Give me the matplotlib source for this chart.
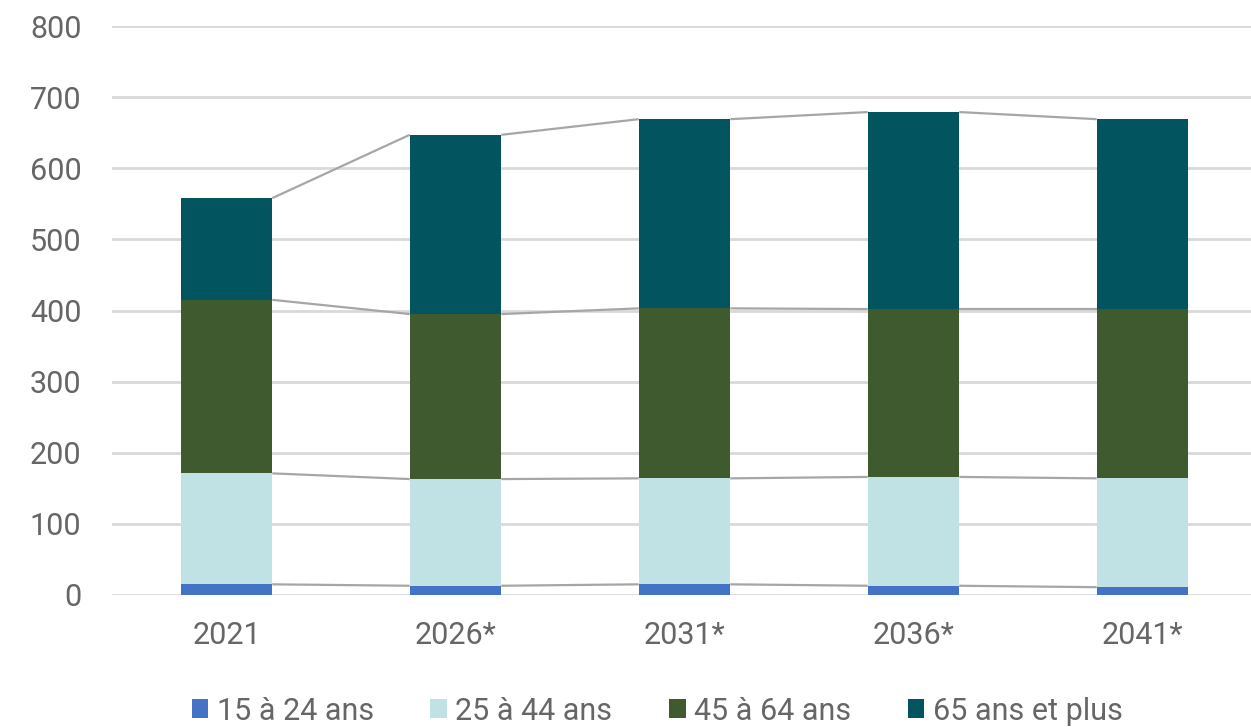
import matplotlib
matplotlib.use("Agg")
import matplotlib.pyplot as plt
import numpy as np

categories = ["2021", "2026*", "2031*", "2036*", "2041*"]
series_names = ["15 à 24 ans", "25 à 44 ans", "45 à 64 ans", "65 ans et plus"]
age_15_24 = [15, 13, 15, 13, 11]
age_25_44 = [156, 150, 149, 153, 153]
age_45_64 = [244, 232, 239, 236, 238]
age_65_plus = [143, 252, 266, 277, 267]
yticks = [0, 100, 200, 300, 400, 500, 600, 700, 800]

colors = ["#4472C4", "#C1E2E5", "#3F5A2F", "#02555F"]
text_color = "#666666"
font = "Roboto"
fsize = 22

fig = plt.figure(figsize=(12.51, 7.27), dpi=100)
ax = fig.add_axes([112/1251, 1 - 595/727, 1145/1251, (595 - 26)/727])

x = np.arange(len(categories))
w = 0.40
bottom = np.zeros(len(categories))
data = [age_15_24, age_25_44, age_45_64, age_65_plus]
handles = []
tops = []
for vals, col, name in zip(data, colors, series_names):
    vals = np.array(vals, dtype=float)
    b = ax.bar(x, vals, w, bottom=bottom, color=col, label=name, zorder=3, linewidth=0)
    handles.append(b)
    bottom = bottom + vals
    tops.append(bottom.copy())

# series lines connecting stacked boundaries
for t in tops:
    for i in range(len(categories) - 1):
        ax.plot([x[i] + w/2, x[i+1] - w/2], [t[i], t[i+1]], color="#a6a6a6",
                lw=1.6, zorder=2, solid_capstyle="butt")

ax.set_xlim(-0.5, 4.5)
ax.set_ylim(0, 800)
ax.set_yticks(yticks)
ax.set_yticklabels([str(v) for v in yticks])
ax.set_xticks(x)
ax.set_xticklabels(categories)
ax.yaxis.grid(True, color="#d9d9d9", lw=2, zorder=0)
ax.set_axisbelow(True)
for s in ax.spines.values():
    s.set_visible(False)
ax.tick_params(axis="both", length=0, labelsize=fsize, colors=text_color)
ax.tick_params(axis="y", pad=22)
ax.tick_params(axis="x", pad=19)
for lab in ax.get_xticklabels() + ax.get_yticklabels():
    lab.set_fontfamily(font)

leg = fig.legend(handles=handles, labels=series_names, loc="center",
                 bbox_to_anchor=(657/1251, 1 - 711/727), ncol=4, frameon=False,
                 handlelength=0.55, handleheight=0.55, handletextpad=0.27,
                 columnspacing=1.85, borderpad=0,
                 prop={"family": font, "size": fsize})
for t in leg.get_texts():
    t.set_color(text_color)

fig.savefig("out.png", dpi=100, facecolor="white")
